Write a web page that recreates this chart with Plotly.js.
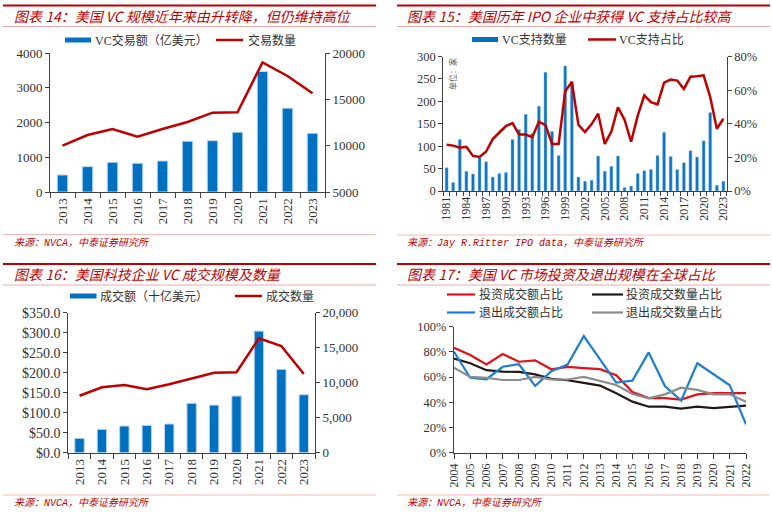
<!DOCTYPE html>
<html><head><meta charset="utf-8">
<script src="https://cdn.plot.ly/plotly-3.0.1.min.js"></script>
<style>html,body{margin:0;padding:0;background:#fff;}#chart{width:772px;height:512px;}</style>
</head><body><div id="chart"></div>
<script>
// ---- Chart 14 data ----
const years14 = ['2013','2014','2015','2016','2017','2018','2019','2020','2021','2022','2023'];
const vcAmount14 = [490, 730, 856, 827, 893, 1461, 1478, 1720, 3467, 2412, 1690];
const vcDeals14 = [10000, 11150, 11800, 10970, 11800, 12550, 13560, 13600, 18990, 17520, 15650];

// ---- Chart 15 data ----
const ipoYears = [1981,1982,1983,1984,1985,1986,1987,1988,1989,1990,1991,1992,1993,1994,1995,1996,1997,1998,1999,2000,2001,2002,2003,2004,2005,2006,2007,2008,2009,2010,2011,2012,2013,2014,2015,2016,2017,2018,2019,2020,2021,2022,2023];
const ipoVcCount = [52,19,115,44,38,75,65,31,39,41,115,137,171,128,189,265,133,79,279,244,31,22,24,78,44,55,78,8,11,39,45,48,79,131,77,48,63,90,76,112,175,13,22];
const ipoVcShare = [27.5,27,25.7,26.3,20.9,20.3,23.5,30.9,34.8,38.6,40.4,33.6,33.6,32,41.2,39.2,28,28,59.3,64.9,39.4,35,39.8,46,28,35.4,49.7,42.4,29.3,44.8,56.9,52.9,51.5,64.5,66.3,65.7,60.7,68,68.2,68.8,55.9,37,43];
const ipoTickYears = [1981,1984,1987,1990,1993,1996,1999,2002,2005,2008,2011,2014,2017,2020,2023];

// ---- Chart 16 data ----
const years16 = ['2013','2014','2015','2016','2017','2018','2019','2020','2021','2022','2023'];
const techAmount16 = [36, 58.5, 66.7, 68.3, 71.7, 123.5, 119, 141.7, 304, 208.5, 145];
const techDeals16 = [8140, 9340, 9670, 9060, 9770, 10630, 11430, 11490, 16340, 15240, 11240];

// ---- Chart 17 data ----
const years17 = [2004,2005,2006,2007,2008,2009,2010,2011,2012,2013,2014,2015,2016,2017,2018,2019,2020,2021,2022];
const invAmtShare = [83.3,77.5,70,78.3,72.2,73.3,66.2,68.1,67.1,66.3,61.5,48.2,43.3,43.3,42.1,46.3,47.3,47.3,47.3];
const invCntShare = [74.7,71,65.5,64.3,64.1,62.2,58.6,57.5,55.4,53.3,47.1,40.5,36.5,36.5,35,36.5,35.3,36.3,37.3];
const exitAmtShare = [80.1,59.5,58.3,68.2,70.2,53,64.7,69.9,92.5,74,55.6,57.2,79.6,52.9,41.3,71,62.2,53.5,22.5];
const exitCntShare = [67.4,60.2,59.4,57.7,57.7,60.2,58.2,58.1,60.2,57,53.7,46.6,43.2,46.3,51.6,49.8,46.3,46.3,40.5];

// ---- geometry helpers ----
const W = 772, H = 512;
const fx = x => x / W;
const fy = y => 1 - y / H;

const BLUE = '#0070C0', DRED = '#C00000';
const SERIF = 'Liberation Serif, Noto Sans CJK SC, serif';
const CJK = 'Liberation Serif, Noto Sans CJK SC, sans-serif';
const AX = '#404040', TXT = '#333333';

const traces = [
  {type:'bar', x:years14, y:vcAmount14, xaxis:'x', yaxis:'y', width:0.42,
   marker:{color:BLUE, line:{color:'#BDD7EE', width:1}}},
  {type:'scatter', mode:'lines', x:years14, y:vcDeals14, xaxis:'x', yaxis:'y2',
   line:{color:DRED, width:2.5}},
  {type:'bar', x:ipoYears, y:ipoVcCount, xaxis:'x2', yaxis:'y3', width:0.45,
   marker:{color:'#0A74C4', line:{color:'#9DC3E6', width:0.5}}},
  {type:'scatter', mode:'lines', x:ipoYears, y:ipoVcShare, xaxis:'x2', yaxis:'y4',
   line:{color:DRED, width:2.5}},
  {type:'bar', x:years16, y:techAmount16, xaxis:'x3', yaxis:'y5', width:0.42,
   marker:{color:BLUE, line:{color:'#BDD7EE', width:1}}},
  {type:'scatter', mode:'lines', x:years16, y:techDeals16, xaxis:'x3', yaxis:'y6',
   line:{color:DRED, width:2.5}},
  {type:'scatter', mode:'lines', x:years17, y:invAmtShare, xaxis:'x4', yaxis:'y7', line:{color:'#E3101A', width:2.2}},
  {type:'scatter', mode:'lines', x:years17, y:invCntShare, xaxis:'x4', yaxis:'y7', line:{color:'#231815', width:2.2}},
  {type:'scatter', mode:'lines', x:years17, y:exitAmtShare, xaxis:'x4', yaxis:'y7', line:{color:'#1C7FD0', width:2.2}},
  {type:'scatter', mode:'lines', x:years17, y:exitCntShare, xaxis:'x4', yaxis:'y7', line:{color:'#8C8C8C', width:2.2}}
];

const baseAxis = {showgrid:false, zeroline:false, showline:true, linecolor:AX, linewidth:1,
  ticks:'outside', ticklen:4, tickcolor:AX, tickfont:{family:SERIF, size:13, color:TXT}, fixedrange:true};

const layout = {
  width:W, height:H, margin:{l:0,r:0,t:0,b:0}, paper_bgcolor:'#fff', plot_bgcolor:'rgba(0,0,0,0)',
  showlegend:false, hovermode:false,
  xaxis: Object.assign({}, baseAxis, {domain:[fx(50), fx(325)], anchor:'y', type:'category',
    tickson:'boundaries', ticklen:5, tickangle:-90}),
  yaxis: Object.assign({}, baseAxis, {domain:[fy(192), fy(53)], anchor:'x', range:[0,4000], dtick:1000, tickformat:'d'}),
  yaxis2: Object.assign({}, baseAxis, {overlaying:'y', side:'right', anchor:'x', range:[5000,20000], dtick:5000, tickformat:'d'}),

  xaxis2: Object.assign({}, baseAxis, {domain:[fx(443.3), fx(726.7)], anchor:'y3', range:[1980.5,2023.5],
    tickmode:'array', tickvals:ipoTickYears, ticks:'', tickangle:-90, tickfont:{family:SERIF, size:12, color:TXT},
    minor:{tick0:1980.5, dtick:1, ticks:'outside', ticklen:4, tickcolor:AX}}),
  yaxis3: Object.assign({}, baseAxis, {domain:[fy(191), fy(56.5)], anchor:'x2', range:[0,300], dtick:50, tickformat:'d',
    tickfont:{family:SERIF, size:12.5, color:TXT}}),
  yaxis4: Object.assign({}, baseAxis, {overlaying:'y3', side:'right', anchor:'x2', range:[0,80], dtick:20, ticksuffix:'%',
    tickfont:{family:SERIF, size:12.5, color:TXT}}),

  xaxis3: Object.assign({}, baseAxis, {domain:[fx(68.3), fx(315)], anchor:'y5', type:'category',
    tickson:'boundaries', ticklen:5, tickangle:-90}),
  yaxis5: Object.assign({}, baseAxis, {domain:[fy(452.7), fy(312.7)], anchor:'x3', range:[0,350], dtick:50,
    tickprefix:'$', tickformat:'.1f', tickfont:{family:SERIF, size:14, color:TXT}}),
  yaxis6: Object.assign({}, baseAxis, {overlaying:'y5', side:'right', anchor:'x3', range:[0,20000], dtick:5000, tickformat:',d'}),

  xaxis4: Object.assign({}, baseAxis, {domain:[fx(454), fx(746)], anchor:'y7', range:[2004,2022], dtick:1, tickangle:-90,
    ticklen:5, tickfont:{family:SERIF, size:12, color:TXT}}),
  yaxis7: Object.assign({}, baseAxis, {domain:[fy(452.7), fy(326.7)], anchor:'x4', range:[0,100], dtick:20, ticksuffix:'%',
    tickfont:{family:SERIF, size:12.5, color:TXT}}),
  shapes: [], annotations: []
};

function hline(x0, x1, y, color, w) {
  layout.shapes.push({type:'line', xref:'paper', yref:'paper', x0:fx(x0), x1:fx(x1), y0:fy(y), y1:fy(y), line:{color:color, width:w}});
}
function rect(x0, x1, y0, y1, color) {
  layout.shapes.push({type:'rect', xref:'paper', yref:'paper', x0:fx(x0), x1:fx(x1), y0:fy(y1), y1:fy(y0), fillcolor:color, line:{width:0}});
}
function text(x, y, t, size, color, family, extra) {
  layout.annotations.push(Object.assign({xref:'paper', yref:'paper', x:fx(x), y:fy(y), text:t, showarrow:false,
    xanchor:'left', yanchor:'middle', font:{size:size, color:color, family:family}}, extra || {}));
}

// panel frames: titles, rules, sources
const panels = [
  {x0:3, x1:376, top:5.5, title:'图表 14：美国 VC 规模近年来由升转降，但仍维持高位', tx:12, src:'来源：NVCA，中泰证券研究所', sy:234.5},
  {x0:397, x1:770, top:5.5, title:'图表 15：美国历年 IPO 企业中获得 VC 支持占比较高', tx:405, src:'来源：Jay R.Ritter IPO data，中泰证券研究所', sy:235},
  {x0:3, x1:376, top:264, title:'图表 16：美国科技企业 VC 成交规模及数量', tx:12, src:'来源：NVCA，中泰证券研究所', sy:495},
  {x0:397, x1:770, top:264, title:'图表 17：美国 VC 市场投资及退出规模在全球占比', tx:405, src:'来源：NVCA，中泰证券研究所', sy:495}
];
panels.forEach(p => {
  hline(p.x0, p.x1, p.top, DRED, 2);
  text(p.tx, p.top + 10, '<i>' + p.title + '</i>', 14, DRED, 'Noto Sans CJK SC, sans-serif');
  hline(p.x0, p.x1, p.top + 21, '#E8A8A8', 1);
  hline(p.x0, p.x1, p.sy, '#F2B8B8', 1);
  text(p.tx, p.sy + 8, '<i>' + p.src + '</i>', 10, DRED, 'Liberation Mono, Noto Sans CJK SC, monospace');
});

// legends (drawn manually to match the reference's wide swatches)
rect(65, 91, 37.5, 42.5, BLUE);   text(93, 40, 'VC交易额（亿美元）', 12, TXT, CJK);
hline(216, 243, 40, DRED, 2.5);    text(246, 40, '交易数量', 12, TXT, CJK);

rect(472, 498, 37, 42, BLUE);     text(500, 39.5, 'VC支持数量', 12, TXT, CJK);
hline(588, 616, 39.5, DRED, 2.5);  text(617, 39.5, 'VC支持占比', 12, TXT, CJK);
text(452, 74, '单位：家', 8, '#555', 'Noto Sans CJK SC, sans-serif', {xanchor:'center', textangle:-90});

rect(70, 96.5, 293.5, 298.5, BLUE); text(98, 296, '成交额（十亿美元）', 12, TXT, CJK);
hline(235, 262, 296, DRED, 2.5);    text(264, 296, '成交数量', 12, TXT, CJK);

hline(447, 475, 294.5, '#E3101A', 2.2); text(477, 294.5, '投资成交额占比', 12, TXT, CJK);
hline(592, 623, 294.5, '#231815', 2.2); text(624, 294.5, '投资成交数量占比', 12, TXT, CJK);
hline(447, 475, 312.5, '#1C7FD0', 2.2); text(477, 312.5, '退出成交额占比', 12, TXT, CJK);
hline(592, 623, 312.5, '#8C8C8C', 2.2); text(624, 312.5, '退出成交数量占比', 12, TXT, CJK);

Plotly.newPlot('chart', traces, layout, {staticPlot:true, displayModeBar:false});
</script></body></html>
